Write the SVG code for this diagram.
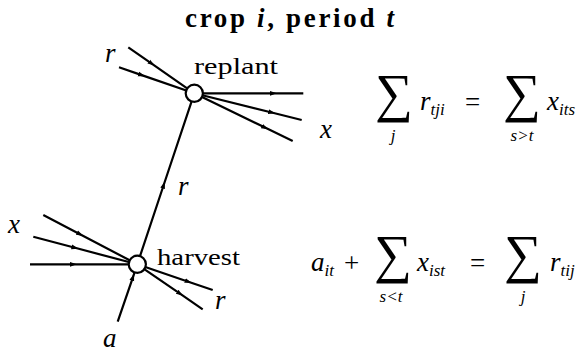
<svg xmlns="http://www.w3.org/2000/svg" width="587" height="352" viewBox="0 0 587 352">
<defs>
<marker id="arr" viewBox="0 0 7 6" refX="3.5" refY="3" markerWidth="7" markerHeight="6" markerUnits="userSpaceOnUse" orient="auto">
<path d="M0,0.6 L7,3 L0,5.4 z" fill="#000"/>
</marker>
<style>
.e{fill:none;stroke:#000;stroke-width:2.2;marker-mid:url(#arr)}
.n{fill:#fff;stroke:#000;stroke-width:2.2}
.rm{font-size:24px}
.mi{font-style:italic;font-size:27px}
.sb{font-style:italic;font-size:17px}
.op{font-size:27px}
.sum{font-size:53px;text-anchor:middle}
.ti{font-weight:bold;font-size:27px}
</style>
</defs>
<g font-family="Liberation Serif, DejaVu Serif, serif" fill="#000">
<text class="ti" x="185" y="27" textLength="209" lengthAdjust="spacing">crop <tspan font-style="italic">i</tspan>, period <tspan font-style="italic">t</tspan></text>
<g id="connectors">
<path class="e" d="M128.3,47.3 L151.7,63.6 L194.3,93.3"/>
<path class="e" d="M119,67.3 L141.7,75.1 L194.3,93.3"/>
<path class="e" d="M194.3,93.3 L273.3,93.3 L303.3,93.3"/>
<path class="e" d="M194.3,93.3 L271.7,112.5 L301.7,120"/>
<path class="e" d="M194.3,93.3 L265,127.6 L292.7,141"/>
<path class="e" d="M137.3,264.3 L163.7,185 L194.3,93.3"/>
<path class="e" d="M43.3,215 L80,234.2 L137.3,264.3"/>
<path class="e" d="M33.3,236.7 L75,247.8 L137.3,264.3"/>
<path class="e" d="M30,264.3 L73.3,264.3 L137.3,264.3"/>
<path class="e" d="M137.3,264.3 L188.3,281.7 L212.7,290"/>
<path class="e" d="M137.3,264.3 L180,293.7 L202.7,309.3"/>
<path class="e" d="M117.7,321.7 L132.9,277.3 L137.3,264.3"/>
<text class="mi" x="105" y="62">r</text>
<text class="mi" x="178" y="195">r</text>
<text class="mi" x="8" y="233">x</text>
<text class="mi" x="215" y="309">r</text>
<text class="mi" x="103" y="347">a</text>
<text class="mi" x="320" y="138">x</text>
</g>
<g id="replant">
<circle class="n" cx="194.3" cy="93.3" r="8.6"/>
<text class="rm" x="194" y="74" textLength="84" lengthAdjust="spacingAndGlyphs">replant</text>
</g>
<g id="harvest">
<circle class="n" cx="137.3" cy="264.3" r="8.6"/>
<text class="rm" x="157" y="265" textLength="83" lengthAdjust="spacingAndGlyphs">harvest</text>
</g>
<g id="eq1">
<text class="sum" x="394" y="111">∑</text>
<text class="sb" x="393" y="141" text-anchor="middle">j</text>
<text class="mi" x="420" y="110">r<tspan class="sb" dy="5">tji</tspan></text>
<text class="op" x="465" y="111">=</text>
<text class="sum" x="522" y="111">∑</text>
<text class="sb" x="522" y="141" text-anchor="middle">s&gt;t</text>
<text class="mi" x="547" y="110">x<tspan class="sb" dy="5">its</tspan></text>
</g>
<g id="eq2">
<text class="mi" x="311" y="271">a<tspan class="sb" dy="5">it</tspan></text>
<text class="op" x="344" y="272">+</text>
<text class="sum" x="393" y="272">∑</text>
<text class="sb" x="391" y="302" text-anchor="middle">s&lt;t</text>
<text class="mi" x="417" y="271">x<tspan class="sb" dy="5">ist</tspan></text>
<text class="op" x="470" y="272">=</text>
<text class="sum" x="523" y="272">∑</text>
<text class="sb" x="523" y="302" text-anchor="middle">j</text>
<text class="mi" x="550" y="271">r<tspan class="sb" dy="5">tij</tspan></text>
</g>
</g>
</svg>
